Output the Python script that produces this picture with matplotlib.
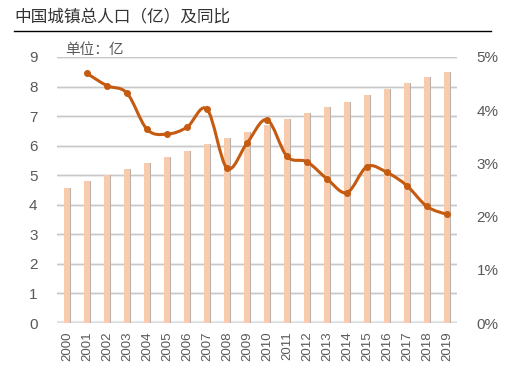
import numpy as np
import matplotlib
matplotlib.use('Agg')
import matplotlib.pyplot as plt
from matplotlib.path import Path
from matplotlib.patches import PathPatch
from matplotlib.ticker import PercentFormatter

plt.rcParams['font.family'] = ['Liberation Sans', 'Noto Sans CJK SC', 'DejaVu Sans']

# data
years = [str(y) for y in range(2000, 2020)]
urban_pop = [4.56, 4.80, 5.02, 5.21, 5.43, 5.62, 5.83, 6.06, 6.25, 6.45,
             6.70, 6.91, 7.12, 7.31, 7.49, 7.71, 7.93, 8.13, 8.31, 8.48]
yoy_years = years[1:]
yoy = [4.69, 4.46, 4.32, 3.64, 3.55, 3.68, 4.02, 2.91, 3.38, 3.82,
       3.13, 3.03, 2.71, 2.45, 2.94, 2.83, 2.58, 2.19, 2.04]

bar_color = '#F8CBAD'
line_color = '#C55A11'
grid_color = '#c8c8c8'
text_color = '#595959'

fig = plt.figure(figsize=(5.14, 3.70), dpi=100)
ax = fig.add_axes([0.111, 0.127, 0.778, 0.719])
ax2 = ax.twinx()

x = np.arange(len(years))
ax.bar(x + 0.03, urban_pop, width=0.36, color='#b8b0aa', zorder=2)
ax.bar(x, urban_pop, width=0.33, color=bar_color, zorder=3)
ax.set_xlim(-0.5, len(years) - 0.5)
ax.set_ylim(0, 9)
ax.set_yticks(range(0, 10))
ax.set_xticks(x)
ax.set_xticklabels(years, rotation=90)
for v in range(1, 10):
    ax.axhline(v, color='#ececec', lw=2.2, zorder=0)
    ax.axhline(v, color=grid_color, lw=0.8, zorder=1)
ax.axhline(0, color='#e6e6e6', lw=3, zorder=1)
ax.axhline(0, color='#c0c0c0', lw=1, zorder=1)
for s in ax.spines.values():
    s.set_visible(False)
for s in ax2.spines.values():
    s.set_visible(False)
ax.tick_params(axis='both', length=0, colors=text_color, labelsize=11)
ax.tick_params(axis='x', labelsize=9.5, pad=6)
ax.tick_params(axis='y', pad=14)

# smoothed YoY line (bezier through the points, like Excel's smoothed line)
xs = np.arange(1, len(years))
ys = np.array(yoy)
verts = [(xs[0], ys[0])]
codes = [Path.MOVETO]
n = len(xs)
for i in range(n - 1):
    p0 = (xs[max(i - 1, 0)], ys[max(i - 1, 0)])
    p1 = (xs[i], ys[i])
    p2 = (xs[i + 1], ys[i + 1])
    p3 = (xs[min(i + 2, n - 1)], ys[min(i + 2, n - 1)])
    t = 1 / 6
    c1 = (p1[0] + (p2[0] - p0[0]) * t, p1[1] + (p2[1] - p0[1]) * t)
    c2 = (p2[0] - (p3[0] - p1[0]) * t, p2[1] - (p3[1] - p1[1]) * t)
    verts += [c1, c2, p2]
    codes += [Path.CURVE4] * 3
ax2.add_patch(PathPatch(Path(verts, codes), facecolor='none',
                        edgecolor=line_color, lw=2.2, zorder=4))
ax2.plot(xs, ys, 'o', color=line_color, ms=4, zorder=5)
ax2.set_ylim(0, 5)
ax2.set_yticks(range(0, 6))
ax2.yaxis.set_major_formatter(PercentFormatter(decimals=0))
ax2.tick_params(axis='y', length=0, colors=text_color, labelsize=11, pad=14)

ax.text(0.02, 1.0, '单位：亿', transform=ax.transAxes, fontsize=10.5,
        color=text_color, va='bottom', ha='left',
        family=['Noto Sans CJK SC', 'DejaVu Sans'])

fig.text(0.027, 0.932, '中国城镇总人口（亿）及同比', fontsize=12,
         color='#333333', va='bottom', ha='left',
         family=['Noto Sans CJK SC', 'DejaVu Sans'])
fig.add_artist(plt.Line2D([0.027, 0.955], [0.916, 0.916],
                          transform=fig.transFigure, color='black', lw=1))

fig.savefig('out.png', dpi=100)
